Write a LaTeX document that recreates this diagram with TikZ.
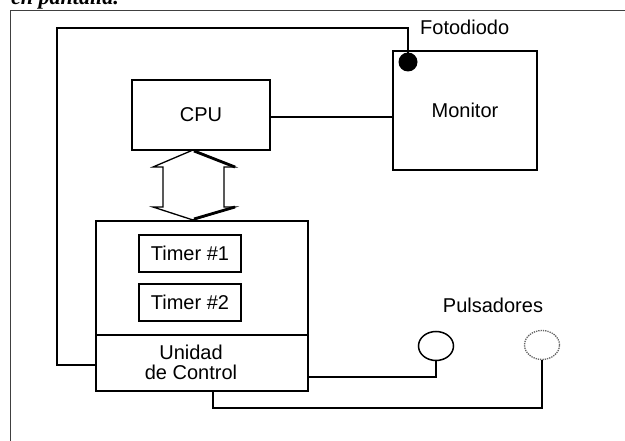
\documentclass[tikz,border=0pt]{standalone}
\usepackage{fontspec}
\setmainfont{Liberation Sans}
\newfontfamily\serifbi{Liberation Serif}
\usetikzlibrary{shapes.geometric}
\tikzset{
  wire/.style={line width=2pt, black},
  blockbox/.style={draw, line width=2pt, rectangle, inner sep=0pt, font=\fontsize{20}{23}\selectfont},
  timerbox/.style={draw, line width=2pt, rectangle, inner sep=0pt, minimum width=102pt, minimum height=37pt, font=\fontsize{20}{23}\selectfont},
  lbl/.style={inner sep=0pt, font=\fontsize{20}{23}\selectfont},
  pulsbox/.style={draw, ellipse, inner sep=0pt, minimum width=35pt, minimum height=29pt},
  framestyle/.style={line width=0.9pt, black!75}
}
\begin{document}
\begin{tikzpicture}[x=1pt,y=-1pt]
\useasboundingbox (0,0) rectangle (625,441);
\fill[white] (0,0) rectangle (625,441);
\begin{scope}
\clip (0,0) rectangle (625,441);
\node[anchor=base west, inner sep=0pt, font=\serifbi\bfseries\itshape\fontsize{22}{24}\selectfont] (caption) at (11,5) {en pantalla.};
\end{scope}
% frame
\draw[framestyle] (10,441) -- (10,10) -- (625,10);
% blocks
\node[blockbox, minimum width=138pt, minimum height=70pt] (cpu) at (201,115) {CPU};
\node[blockbox, minimum width=144pt, minimum height=119pt] (monitor) at (465,110.5) {Monitor};
\node[blockbox, minimum width=212pt, minimum height=114pt] (ctrltop) at (202,278) {};
\node[blockbox, minimum width=212pt, minimum height=56pt] (ctrl) at (202,363) {};
\node[lbl, align=center, font=\fontsize{20}{20}\selectfont] (ctrltext) at (191,362) {Unidad\\de Control};
\node[timerbox] (t1) at (190,253.5) {Timer \#1};
\node[timerbox] (t2) at (190,302.5) {Timer \#2};
% photodiode
\node[fill=black, circle, inner sep=0pt, minimum size=19pt] (dot) at (408,62) {};
\node[lbl, anchor=base west] (foto) at (420,35) {Fotodiodo};
\coordinate (ltop) at (408,28);
\coordinate (lcorner) at (57,28);
\coordinate (lbot) at (57,365);
\draw[wire] (dot.center) -- (ltop) -- (lcorner) -- (lbot) -- (lbot -| ctrl.west);
% cpu - monitor
\draw[wire] ([yshift=-2pt]cpu.east) -- ([yshift=-2pt]monitor.west |- cpu.east);
% bus arrow
\draw[line width=1.3pt, line join=miter] (193,150) -- (235,167) -- (224,167) -- (224,207) -- (235,207) -- (193,220) -- (153,207) -- (163,207) -- (163,167) -- (153,167) -- cycle;
\draw[line width=2.8pt] (194,151) -- (235,167);
\draw[line width=2.8pt] (235,207) -- (194,219);
% pushbuttons
\node[lbl] (puls) at (493,305) {Pulsadores};
\node[pulsbox, line width=1.5pt] (p1) at (436,346) {};
\node[pulsbox, line width=1.3pt, black!60, densely dotted] (p2) at (542,345) {};
\coordinate (c1) at (436,377);
\coordinate (c2a) at (213,408);
\coordinate (c2b) at (542,408);
\draw[wire] (c1 -| ctrl.east) -- (c1) -- (p1.south);
\draw[wire] (c2a |- ctrl.south) -- (c2a) -- (c2b) -- (p2.south);
\end{tikzpicture}
\end{document}
